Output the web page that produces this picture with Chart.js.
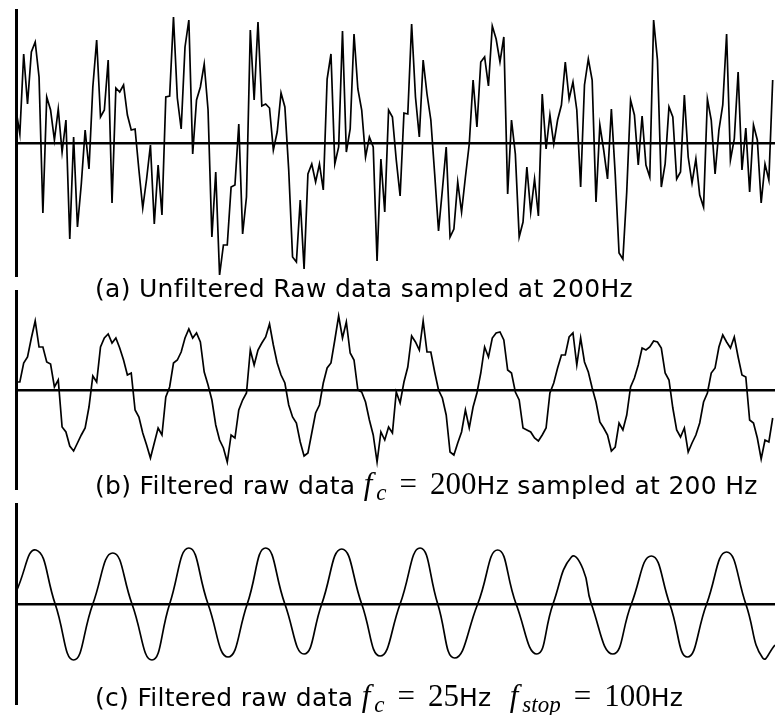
<!DOCTYPE html>
<html>
<head>
<meta charset="utf-8">
<script src="https://cdn.jsdelivr.net/npm/chart.js@4"></script>
<style>
  html, body { margin: 0; padding: 0; background: #fff; }
  #page { position: relative; width: 775px; height: 715px; overflow: hidden; }
  canvas { position: absolute; left: 0; }
  .cap { position: absolute; left: 95px; font-family: "DejaVu Sans", sans-serif; font-size: 25px; line-height: 25px; letter-spacing: 0.3px; color: #000; white-space: nowrap; }
  .math { font-family: "Liberation Serif", serif; font-size: 31px; letter-spacing: 0; }
  .math .f { font-style: italic; margin-right: 4px; }
  .math sub { font-size: 23px; font-style: italic; vertical-align: -6px; line-height: 0; }
  .math .eq { margin: 0 13px; }
  .gap { margin-left: 10px; }
</style>
</head>
<body>
<div id="page">
  <canvas id="rawChart" width="775" height="268" style="top:9px"></canvas>
  <canvas id="filteredChart" width="775" height="200" style="top:290px"></canvas>
  <canvas id="smoothChart" width="775" height="202" style="top:503px"></canvas>
  <div class="cap" style="top:276px">(a) Unfiltered Raw data sampled at 200Hz</div>
  <div class="cap" style="top:471px">(b) Filtered raw data <span class="math"><span class="f">f</span><sub>c</sub><span class="eq">=</span>200</span>Hz sampled at 200 Hz</div>
  <div class="cap" style="top:683px">(c) Filtered raw data <span class="math"><span class="f">f</span><sub>c</sub><span class="eq">=</span>25</span>Hz <span class="math gap"><span class="f">f</span><sub>stop</sub><span class="eq">=</span>100</span>Hz</div>
</div>
<script>
// 200 Hz -> one sample every 5 ms
const samplePeriodMs = 5;

// (a) raw samples
const rawValues = [
    33, 9, 89, 39, 91, 101, 66, -70, 46, 33,
    3, 34, -9, 23, -96, 6, -84, -41, 13, -26,
    56, 103, 26, 33, 83, -60, 55, 51, 58, 28,
    13, 14, -27, -65, -36, -2, -81, -22, -72, 46,
    47, 126, 45, 14, 96, 123, -11, 43, 56, 79,
    33, -94, -29, -132, -102, -102, -44, -42, 19, -91,
    -54, 113, 43, 121, 37, 39, 35, -7, 11, 50,
    36, -27, -114, -119, -57, -126, -31, -21, -39, -21,
    -47, 64, 89, -21, -4, 112, -9, 14, 109, 54,
    33, -14, 6, -4, -118, -16, -69, 33, 26, -17,
    -53, 30, 29, 119, 46, 6, 83, 49, 23, -31,
    -88, -47, -4, -94, -86, -39, -69, -34, -1, 63,
    16, 81, 86, 57, 117, 104, 81, 106, -51, 23,
    -11, -94, -79, -24, -69, -36, -73, 49, -6, 28,
    -1, 23, 38, 81, 44, 61, 33, -44, 58, 84,
    63, -59, 18, -7, -36, 34, -31, -110, -116, -49,
    43, 28, -22, 27, -22, -34, 123, 83, -44, -21,
    36, 26, -36, -29, 48, -14, -40, -16, -52, -64,
    44, 23, -31, 13, 38, 109, -17, 4, 71, -27,
    15, -49, 18, 3, -60, -21, -37, 63
];

// (b) filtered at fc = 200Hz
const filteredValues = [
    8, 8, 27, 33, 52, 69, 43, 43, 28, 26,
    3, 10, -37, -42, -56, -61, -53, -45, -38, -17,
    14, 8, 43, 52, 56, 47, 52, 42, 30, 15,
    17, -20, -27, -43, -55, -68, -53, -38, -45, -7,
    3, 27, 30, 38, 52, 61, 52, 57, 48, 18,
    5, -10, -35, -50, -58, -72, -45, -48, -20, -10,
    -3, 40, 25, 40, 47, 53, 66, 45, 27, 15,
    7, -15, -27, -33, -52, -66, -63, -43, -23, -15,
    7, 22, 27, 50, 74, 52, 68, 37, 30, 0,
    -2, -12, -30, -45, -72, -42, -50, -37, -43, -2,
    -13, 8, 23, 54, 48, 40, 69, 38, 38, 18,
    0, -8, -25, -62, -65, -53, -42, -20, -38, -17,
    -3, 17, 43, 33, 52, 57, 58, 50, 20, 17,
    -2, -10, -38, -40, -42, -48, -51, -45, -38, -3,
    7, 22, 35, 35, 53, 57, 25, 52, 28, 18,
    2, -12, -32, -38, -45, -61, -57, -33, -40, -25,
    3, 12, 25, 42, 40, 43, 49, 48, 42, 17,
    10, -18, -40, -47, -38, -62, -53, -45, -33, -12,
    -3, 17, 22, 43, 55, 48, 42, 53, 33, 15,
    13, -30, -33, -48, -69, -50, -52, -28
];

// (c) fc = 25Hz, fstop = 100Hz: peaks, troughs and zero crossings (ms, value)
const smoothTimes = [0, 26, 51, 75, 100, 126, 151, 177, 200, 225, 250, 276, 301, 325, 350, 375, 398, 424, 450, 474,
    500, 526, 549, 571, 601, 627, 651, 678, 699, 723, 738, 749, 777, 801, 827, 851, 874, 899, 925, 950, 972, 988];
const smoothValues = [12, 54, 0, -56, 0, 51, 0, -56, 0, 56, 0, -53, 0, 56, 0, -50, 0, 55, 0, -52,
    0, 56, 0, -54, 0, 54, 0, -50, 0, 47, 35, 0, -50, 0, 48, 0, -53, 0, 52, 0, -54, -41];

const timeMax = 988;

function toPoints(values) {
    return values.map((v, i) => ({x: i * samplePeriodMs, y: v}));
}

function makePanel(id, points, yMax, tension) {
    return new Chart(document.getElementById(id), {
        type: 'line',
        data: {
            datasets: [{
                data: points,
                borderColor: '#000',
                borderWidth: 1.7,
                pointRadius: 0,
                tension: tension,
                fill: false
            }]
        },
        options: {
            responsive: false,
            animation: false,
            layout: {padding: 0},
            plugins: {
                legend: {display: false},
                tooltip: {enabled: false}
            },
            scales: {
                x: {type: 'linear', min: 0, max: timeMax, display: false},
                y: {
                    min: -yMax,
                    max: yMax,
                    afterFit: (scale) => { scale.width = 16; },
                    // only the zero line is drawn
                    afterBuildTicks: (scale) => { scale.ticks = [{value: 0}]; },
                    ticks: {display: false},
                    grid: {drawTicks: false, color: '#000', lineWidth: 2.6},
                    border: {display: true, color: '#000', width: 3}
                }
            }
        }
    });
}

makePanel('rawChart', toPoints(rawValues), 134, 0);
makePanel('filteredChart', toPoints(filteredValues), 100, 0);
makePanel('smoothChart', smoothTimes.map((t, i) => ({x: t, y: smoothValues[i]})), 101, 0.5);
</script>
</body>
</html>
